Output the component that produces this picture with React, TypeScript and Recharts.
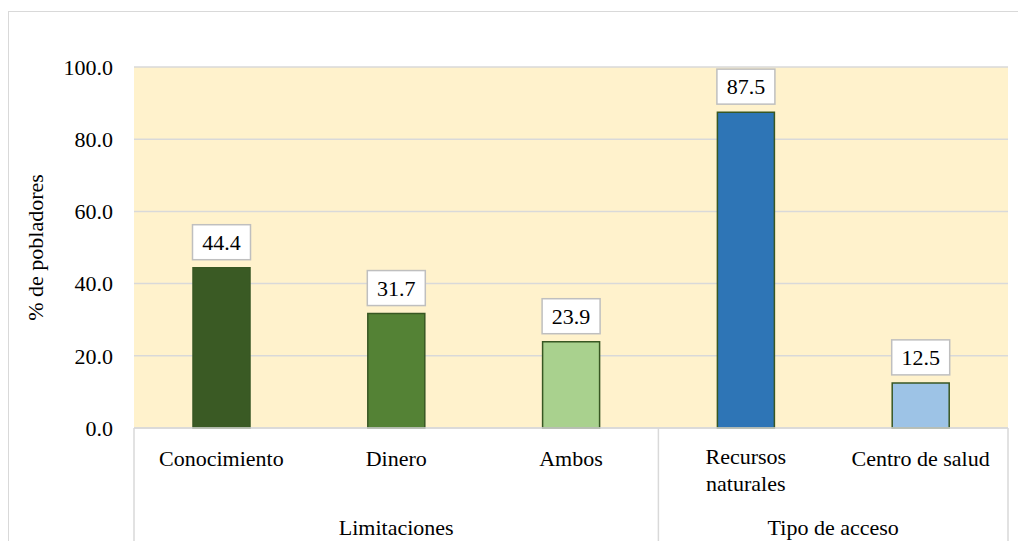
import { BarChart, Bar, XAxis, YAxis, CartesianGrid, Cell, LabelList } from 'recharts';

const categories = ['Conocimiento', 'Dinero', 'Ambos', 'Recursos naturales', 'Centro de salud'];
const tickLines = [['Conocimiento'], ['Dinero'], ['Ambos'], ['Recursos', 'naturales'], ['Centro de salud']];
const groups = ['Limitaciones', 'Limitaciones', 'Limitaciones', 'Tipo de acceso', 'Tipo de acceso'];
const values = [44.4, 31.7, 23.9, 87.5, 12.5];
const barColors = ['#3A5A24', '#548235', '#A9D18E', '#2E75B6', '#9DC3E6'];
const yTicks = [0, 20, 40, 60, 80, 100];

const data = categories.map((name, i) => ({ name, group: groups[i], value: values[i] }));

const FONT = 'Liberation Serif, DejaVu Serif, serif';
const GRAY = '#D9D9D9';

const CategoryTick = (props: any) => {
  const { x, y, payload, index, width, visibleTicksCount } = props;
  const count = visibleTicksCount || categories.length;
  const band = (width || 874) / count;
  const i = payload?.index ?? index;
  const lines = tickLines[i] || [String(payload?.value)];
  const left = x - band / 2;
  const right = x + band / 2;
  const group = groups[i];
  const isGroupStart = i === 0 || groups[i - 1] !== group;
  let groupLabel = null;
  if (isGroupStart) {
    let size = 0;
    while (groups[i + size] === group) size++;
    groupLabel = (
      <text x={left + (band * size) / 2} y={y + 107} textAnchor='middle' fontSize={22} fill='#000' fontFamily={FONT}>
        {group}
      </text>
    );
  }
  const firstY = lines.length > 1 ? y + 36 : y + 38;
  return (
    <g>
      {isGroupStart && <line x1={left} x2={left} y1={y} y2={y + 130} stroke={GRAY} strokeWidth={1.5} />}
      {i === count - 1 && <line x1={right} x2={right} y1={y} y2={y + 130} stroke={GRAY} strokeWidth={1.5} />}
      {lines.map((t: string, k: number) => (
        <text key={k} x={x} y={firstY + k * 27} textAnchor='middle' fontSize={22} fill='#000' fontFamily={FONT}>
          {t}
        </text>
      ))}
      {groupLabel}
    </g>
  );
};

const ValueBox = (props: any) => {
  const { x, y, width, value } = props;
  const cx = x + width / 2;
  const boxW = 58;
  const boxH = 35;
  const top = y - 8 - boxH;
  return (
    <g>
      <rect x={cx - boxW / 2} y={top} width={boxW} height={boxH} fill='#fff' stroke='#BFBFBF' strokeWidth={1.5} />
      <text x={cx} y={top + boxH / 2 + 7.5} textAnchor='middle' fontSize={22} fill='#000' fontFamily={FONT}>
        {Number(value).toFixed(1)}
      </text>
    </g>
  );
};

const YTitle = (props: any) => {
  const vb = props.viewBox || { x: 0, y: 67, height: 361 };
  const cy = vb.y + vb.height / 2;
  const cx = vb.x + 43;
  return (
    <text x={cx} y={cy} transform={`rotate(-90, ${cx}, ${cy})`} textAnchor='middle' fontSize={22} fill='#000' fontFamily={FONT}>
      % de pobladores
    </text>
  );
};

export default function App() {
  return (
    <div style={{ position: 'absolute', left: 0, top: 0, width: 1018, height: 541, overflow: 'hidden', background: '#fff', fontFamily: FONT }}>
      <div style={{ position: 'absolute', left: 8, top: 11, width: 1100, height: 700, border: `1.5px solid ${GRAY}` }} />
      <div style={{ position: 'absolute', left: 0, top: 0 }}>
        <BarChart
          width={1018}
          height={541}
          data={data}
          margin={{ top: 67, right: 10, bottom: 0, left: 0 }}
        >
          <CartesianGrid vertical={false} fill='#FFF2CC' stroke={GRAY} strokeWidth={1.5} />
          <XAxis
            dataKey='name'
            height={113}
            interval={0}
            tickLine={false}
            tickSize={0}
            tickMargin={0}
            axisLine={{ stroke: GRAY, strokeWidth: 1.5 }}
            tick={<CategoryTick />}
          />
          <YAxis
            width={134}
            domain={[0, 100]}
            ticks={yTicks}
            axisLine={false}
            tickLine={false}
            tickSize={0}
            tickMargin={21}
            tickFormatter={(v: number) => v.toFixed(1)}
            tick={{ fontSize: 22, fill: '#000', fontFamily: FONT }}
            label={<YTitle />}
          />
          <Bar dataKey='value' barSize={57} stroke='#385723' strokeWidth={1.5} isAnimationActive={false}>
            {data.map((d, i) => (
              <Cell key={d.name} fill={barColors[i]} />
            ))}
            <LabelList dataKey='value' content={<ValueBox />} />
          </Bar>
        </BarChart>
      </div>
    </div>
  );
}
